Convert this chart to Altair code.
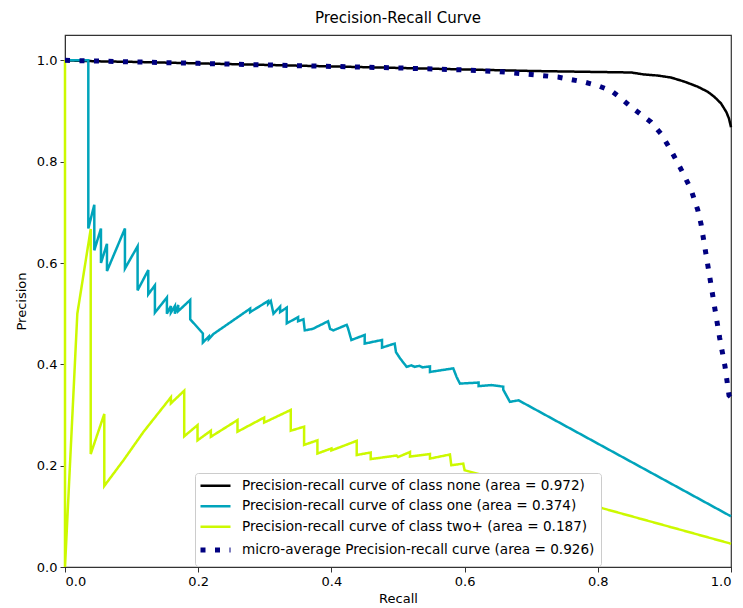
import altair as alt
import pandas as pd

# ---- data ----
series_names = [
    "Precision-recall curve of class none (area = 0.972)",
    "Precision-recall curve of class one (area = 0.374)",
    "Precision-recall curve of class two+ (area = 0.187)",
    "micro-average Precision-recall curve (area = 0.926)",
]
series_colors = ["#000000", "#00A4BB", "#CCF900", "#000080"]
series_widths = [2.5, 2.5, 2.5, 5]
series_dashes = [[1, 0], [1, 0], [1, 0], [5, 9.5]]

none_recall = [0.0, 0.05, 0.1, 0.2, 0.3, 0.4, 0.5, 0.6, 0.7, 0.8, 0.85, 0.87, 0.89,
               0.91, 0.93, 0.95, 0.965, 0.975, 0.985, 0.993, 0.997, 1.0]
none_precision = [1.0, 0.998, 0.997, 0.994, 0.991, 0.988, 0.985, 0.982, 0.979, 0.977,
                  0.976, 0.972, 0.970, 0.966, 0.958, 0.948, 0.938, 0.928, 0.915,
                  0.898, 0.885, 0.868]

one_recall = [0.0, 0.035, 0.035, 0.044, 0.044, 0.054, 0.054, 0.063, 0.063, 0.090, 0.090,
              0.109, 0.109, 0.125, 0.125, 0.135, 0.135, 0.153, 0.153, 0.159, 0.159,
              0.165, 0.165, 0.170, 0.170, 0.188, 0.188, 0.207, 0.207, 0.216, 0.216,
              0.223, 0.278, 0.278, 0.305, 0.305, 0.309, 0.313, 0.323, 0.323, 0.333,
              0.333, 0.350, 0.350, 0.358, 0.360, 0.372, 0.395, 0.398, 0.403, 0.423,
              0.425, 0.430, 0.450, 0.450, 0.476, 0.476, 0.495, 0.497, 0.503, 0.513,
              0.520, 0.525, 0.532, 0.537, 0.548, 0.548, 0.583, 0.588, 0.593, 0.621,
              0.621, 0.640, 0.658, 0.658, 0.668, 0.681, 1.0]
one_precision = [1.0, 1.0, 0.668, 0.715, 0.625, 0.668, 0.600, 0.638, 0.584, 0.668, 0.589,
                 0.633, 0.546, 0.586, 0.538, 0.556, 0.502, 0.532, 0.500, 0.515, 0.502,
                 0.515, 0.500, 0.517, 0.505, 0.527, 0.489, 0.461, 0.443, 0.455, 0.450,
                 0.460, 0.510, 0.503, 0.525, 0.519, 0.525, 0.500, 0.514, 0.503, 0.512,
                 0.481, 0.493, 0.485, 0.489, 0.467, 0.470, 0.485, 0.470, 0.467, 0.478,
                 0.471, 0.448, 0.458, 0.441, 0.448, 0.433, 0.441, 0.424, 0.412, 0.395,
                 0.398, 0.395, 0.397, 0.394, 0.396, 0.385, 0.392, 0.375, 0.362, 0.364,
                 0.357, 0.359, 0.356, 0.350, 0.326, 0.329, 0.100]

two_recall = [0.0, 0.0, 0.0185, 0.0386, 0.0386, 0.059, 0.059, 0.088, 0.118, 0.159, 0.159,
              0.179, 0.179, 0.199, 0.199, 0.219, 0.219, 0.259, 0.259, 0.299, 0.299,
              0.339, 0.339, 0.359, 0.359, 0.379, 0.379, 0.400, 0.400, 0.438, 0.438,
              0.459, 0.459, 0.498, 0.500, 0.518, 0.518, 0.548, 0.548, 0.578, 0.580,
              0.598, 0.600, 1.0]
two_precision = [1.0, 0.0, 0.5, 0.667, 0.223, 0.302, 0.160, 0.211, 0.267, 0.335, 0.323,
                 0.348, 0.258, 0.280, 0.250, 0.269, 0.257, 0.290, 0.267, 0.295, 0.285,
                 0.310, 0.269, 0.277, 0.241, 0.250, 0.224, 0.234, 0.230, 0.249, 0.221,
                 0.226, 0.213, 0.220, 0.217, 0.227, 0.218, 0.223, 0.214, 0.222, 0.201,
                 0.204, 0.191, 0.046]

micro_recall = [0.0, 0.1, 0.2, 0.3, 0.4, 0.5, 0.6, 0.65, 0.7, 0.74, 0.78, 0.80, 0.82,
                0.835, 0.85, 0.865, 0.88, 0.895, 0.91, 0.925, 0.94, 0.95, 0.955, 0.962,
                0.969, 0.976, 0.983, 0.991, 0.997, 1.0]
micro_precision = [1.0, 0.997, 0.994, 0.991, 0.988, 0.985, 0.981, 0.978, 0.972, 0.967,
                   0.957, 0.950, 0.940, 0.925, 0.908, 0.893, 0.878, 0.855, 0.822, 0.785,
                   0.745, 0.705, 0.677, 0.621, 0.565, 0.508, 0.452, 0.396, 0.339, 0.335]

x_ticks = [0.0, 0.2, 0.4, 0.6, 0.8, 1.0]
y_ticks = [0.0, 0.2, 0.4, 0.6, 0.8, 1.0]

rows = []
for name, rs, ps in zip(series_names,
                        [none_recall, one_recall, two_recall, micro_recall],
                        [none_precision, one_precision, two_precision, micro_precision]):
    for i, (r, p) in enumerate(zip(rs, ps)):
        rows.append({"series": name, "recall": r, "precision": p, "idx": i})
df = pd.DataFrame(rows)

FONT = "DejaVu Sans"

chart = alt.Chart(df).mark_line(strokeCap="butt", strokeJoin="miter").encode(
    x=alt.X("recall:Q", title="Recall",
            scale=alt.Scale(domain=[0, 1], nice=False, zero=False),
            axis=alt.Axis(values=x_ticks, format=".1f", grid=False)),
    y=alt.Y("precision:Q", title="Precision",
            scale=alt.Scale(domain=[0, 1.05], nice=False, zero=False),
            axis=alt.Axis(values=y_ticks, format=".1f", grid=False)),
    color=alt.Color("series:N", sort=series_names,
                    scale=alt.Scale(domain=series_names, range=series_colors),
                    legend=alt.Legend(title=None, orient="none", legendX=130, legendY=438,
                                      symbolType="M-1.6,0H4.4", symbolSize=100,
                                      labelFontSize=13.6, labelFont=FONT, labelColor="#000",
                                      labelOffset=26, rowPadding=5.5, padding=6,
                                      strokeColor="#cccccc", fillColor="white",
                                      cornerRadius=3, labelLimit=500)),
    strokeDash=alt.StrokeDash("series:N", sort=series_names,
                              scale=alt.Scale(domain=series_names, range=series_dashes),
                              legend=alt.Legend(title=None)),
    strokeWidth=alt.StrokeWidth("series:N", sort=series_names,
                                scale=alt.Scale(type="ordinal", domain=series_names,
                                                range=series_widths),
                                legend=alt.Legend(title=None)),
    order=alt.Order("idx:Q"),
).properties(
    width=666, height=532,
    title=alt.Title("Precision-Recall Curve", fontSize=15, font=FONT, fontWeight="normal",
                    color="#000", offset=9),
    autosize=alt.AutoSizeParams(type="none"),
    padding={"left": 65, "top": 35, "right": 12, "bottom": 41},
).configure_view(
    stroke="#333333", strokeWidth=1.2
).configure_axis(
    labelFont=FONT, labelFontSize=13, labelColor="#000",
    titleFont=FONT, titleFontSize=13, titleFontWeight="normal", titleColor="#000",
    domainColor="#333333", tickColor="#333333", tickSize=5, labelPadding=3,
).configure_axisY(titlePadding=8).configure_axisX(titlePadding=4)

chart.save("out.html", embed_options={"renderer": "svg", "actions": False})
